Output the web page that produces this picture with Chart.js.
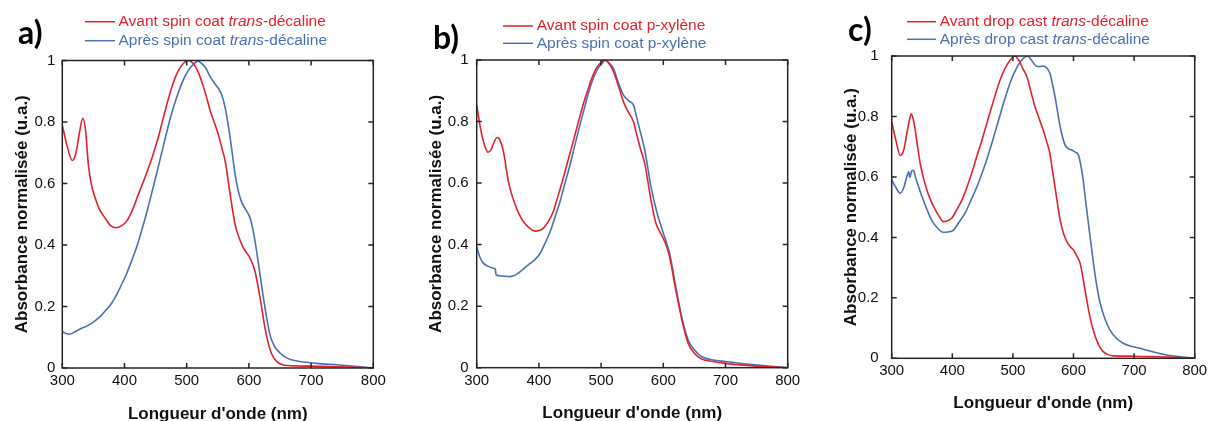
<!DOCTYPE html>
<html>
<head>
<meta charset="utf-8">
<script src="https://cdn.jsdelivr.net/npm/chart.js@4.4.1/dist/chart.umd.min.js"></script>
<style>
  body { margin: 0; width: 1208px; height: 421px; overflow: hidden; background: #fff; position: relative; }
  canvas { position: absolute; top: 0; }
</style>
</head>
<body>
<canvas id="chartA" width="400" height="421" style="left:0px;width:400px;height:421px"></canvas>
<canvas id="chartB" width="400" height="421" style="left:414px;width:400px;height:421px"></canvas>
<canvas id="chartC" width="400" height="421" style="left:829px;width:400px;height:421px"></canvas>
<script>
// axes
const xTicksNm = [300, 400, 500, 600, 700, 800];
const yTicksAbs = [0, 0.2, 0.4, 0.6, 0.8, 1];
const xTitle = "Longueur d'onde (nm)";
const yTitle = 'Absorbance normalisée (u.a.)';

// a) spin coat trans-décaline
const aAvantNm = [300, 308, 316, 322, 328, 333, 337, 342, 347, 353, 360, 369, 378, 387, 395, 403, 412, 422, 433, 444, 455, 465, 474, 481, 488, 495, 502, 508, 514, 520, 526, 532, 538, 545, 551, 556, 562, 570, 578, 584, 590, 596, 602, 610, 618, 626, 634, 640, 645, 652, 661, 700, 750, 800];
const aAvantAbs = [0.79, 0.72, 0.675, 0.70, 0.77, 0.812, 0.78, 0.66, 0.595, 0.552, 0.515, 0.487, 0.462, 0.456, 0.462, 0.476, 0.51, 0.563, 0.62, 0.682, 0.755, 0.834, 0.9, 0.942, 0.972, 0.991, 1.0, 0.995, 0.98, 0.955, 0.92, 0.88, 0.835, 0.795, 0.758, 0.72, 0.671, 0.563, 0.465, 0.425, 0.395, 0.375, 0.357, 0.313, 0.227, 0.129, 0.059, 0.033, 0.021, 0.012, 0.008, 0.006, 0.004, 0];
const aApresNm = [300, 306, 312, 318, 325, 331, 340, 347, 355, 363, 371, 379, 387, 395, 403, 411, 419, 427, 435, 443, 451, 459, 467, 475, 483, 491, 498, 505, 512, 518, 523, 530, 537, 545, 551, 556, 562, 570, 578, 583, 588, 595, 602, 606, 610, 618, 626, 634, 640, 645, 652, 661, 670, 682, 709, 746, 775, 800];
const aApresAbs = [0.118, 0.112, 0.11, 0.115, 0.123, 0.129, 0.137, 0.145, 0.157, 0.172, 0.19, 0.21, 0.237, 0.27, 0.305, 0.346, 0.39, 0.443, 0.5, 0.563, 0.627, 0.693, 0.76, 0.823, 0.875, 0.92, 0.952, 0.975, 0.99, 0.998, 0.992, 0.978, 0.95, 0.925, 0.909, 0.89, 0.845, 0.747, 0.628, 0.575, 0.541, 0.515, 0.487, 0.455, 0.411, 0.302, 0.194, 0.107, 0.075, 0.059, 0.045, 0.032, 0.026, 0.021, 0.015, 0.01, 0.005, 0];

// b) spin coat p-xylène
const bAvantNm = [300, 305, 311, 318, 323, 327, 333, 336, 340, 343, 351, 356, 362, 368, 375, 384, 394, 400, 407, 415, 423, 431, 439, 447, 455, 463, 471, 479, 487, 494, 501, 506, 512, 520, 528, 536, 544, 552, 557, 563, 570, 580, 588, 595, 600, 606, 610, 620, 630, 640, 650, 660, 680, 700, 750, 800];
const bAvantAbs = [0.854, 0.79, 0.734, 0.70, 0.708, 0.729, 0.748, 0.745, 0.725, 0.702, 0.605, 0.565, 0.529, 0.5, 0.475, 0.455, 0.444, 0.446, 0.453, 0.475, 0.507, 0.56, 0.615, 0.675, 0.734, 0.795, 0.854, 0.905, 0.951, 0.978, 0.994, 1.0, 0.99, 0.962, 0.915, 0.864, 0.83, 0.8, 0.76, 0.713, 0.665, 0.547, 0.47, 0.44, 0.42, 0.39, 0.362, 0.253, 0.155, 0.079, 0.047, 0.03, 0.02, 0.014, 0.005, 0];
const bApresNm = [300, 305, 311, 318, 327, 330, 331, 340, 353, 361, 370, 378, 386, 394, 402, 410, 418, 426, 434, 442, 450, 458, 466, 474, 482, 489, 496, 502, 507, 513, 520, 528, 536, 544, 552, 557, 563, 570, 580, 590, 600, 610, 620, 630, 640, 650, 660, 680, 700, 750, 800];
const bApresAbs = [0.393, 0.36, 0.339, 0.33, 0.323, 0.32, 0.302, 0.298, 0.296, 0.3, 0.312, 0.326, 0.339, 0.352, 0.372, 0.405, 0.442, 0.49, 0.54, 0.6, 0.659, 0.725, 0.789, 0.85, 0.908, 0.948, 0.975, 0.99, 1.0, 0.99, 0.972, 0.925, 0.886, 0.868, 0.854, 0.815, 0.767, 0.71, 0.59, 0.503, 0.438, 0.373, 0.264, 0.161, 0.09, 0.058, 0.038, 0.025, 0.02, 0.009, 0];

// c) drop cast trans-décaline
const cAvantNm = [300, 307, 314, 320, 325, 329, 332, 335, 338, 342, 347, 352, 358, 365, 372, 379, 385, 392, 399, 407, 416, 424, 432, 440, 449, 457, 465, 473, 481, 488, 495, 503, 510, 516, 523, 530, 536, 543, 550, 556, 561, 565, 570, 578, 584, 589, 595, 600, 605, 611, 619, 627, 633, 638, 644, 649, 656, 666, 700, 741, 770, 800];
const cAvantAbs = [0.783, 0.72, 0.671, 0.69, 0.744, 0.785, 0.808, 0.795, 0.766, 0.71, 0.645, 0.6, 0.557, 0.52, 0.491, 0.468, 0.452, 0.455, 0.463, 0.49, 0.524, 0.565, 0.612, 0.665, 0.722, 0.778, 0.832, 0.885, 0.932, 0.962, 0.985, 1.0, 0.985, 0.96, 0.932, 0.88, 0.835, 0.795, 0.755, 0.715, 0.678, 0.625, 0.56, 0.457, 0.41, 0.386, 0.368, 0.358, 0.34, 0.314, 0.226, 0.138, 0.09, 0.061, 0.035, 0.022, 0.013, 0.008, 0.007, 0.005, 0.003, 0];
const cApresNm = [300, 307, 314, 320, 325, 328, 330, 333, 336, 339, 344, 350, 358, 366, 375, 385, 393, 402, 411, 421, 432, 443, 454, 465, 476, 487, 497, 506, 514, 521, 524, 531, 539, 545, 550, 556, 561, 565, 570, 578, 586, 592, 597, 603, 608, 612, 616, 620, 625, 633, 638, 644, 652, 660, 670, 682, 695, 710, 730, 754, 787, 800];
const cApresAbs = [0.59, 0.565, 0.546, 0.565, 0.601, 0.617, 0.598, 0.62, 0.622, 0.601, 0.57, 0.535, 0.493, 0.457, 0.432, 0.417, 0.418, 0.424, 0.45, 0.48, 0.528, 0.579, 0.64, 0.71, 0.785, 0.86, 0.92, 0.96, 0.985, 0.998, 1.0, 0.985, 0.966, 0.965, 0.967, 0.96, 0.943, 0.91, 0.86, 0.766, 0.706, 0.693, 0.689, 0.682, 0.673, 0.64, 0.59, 0.52, 0.44, 0.314, 0.245, 0.182, 0.13, 0.094, 0.068, 0.05, 0.04, 0.033, 0.022, 0.011, 0.003, 0];

const aLabels = ['Avant spin coat <i>trans</i>-décaline', 'Après spin coat <i>trans</i>-décaline'];
const bLabels = ['Avant spin coat p-xylène', 'Après spin coat p-xylène'];
const cLabels = ['Avant drop cast <i>trans</i>-décaline', 'Après drop cast <i>trans</i>-décaline'];

const RED = '#e2232b';
const BLUE = '#4a71b6';
const FRAME = '#262626';
const FONT = "'Liberation Sans', Arial, sans-serif";

function pts(xs, ys) {
  return xs.map((x, i) => ({ x: x, y: ys[i] }));
}

// frame, inner ticks on all four sides, legend with italic parts, panel letter
const panelDecor = {
  id: 'panelDecor',
  afterDatasetsDraw(chart, args, opts) {
    const ctx = chart.ctx;
    const { left, right, top, bottom } = chart.chartArea;
    const xs = chart.scales.x, ys = chart.scales.y;
    ctx.save();
    ctx.strokeStyle = FRAME;
    ctx.lineWidth = 1.5;
    ctx.strokeRect(left, top, right - left, bottom - top);
    ctx.beginPath();
    xs.ticks.forEach(t => {
      const px = xs.getPixelForValue(t.value);
      ctx.moveTo(px, bottom); ctx.lineTo(px, bottom - 5);
      ctx.moveTo(px, top); ctx.lineTo(px, top + 5);
    });
    ys.ticks.forEach(t => {
      const py = ys.getPixelForValue(t.value);
      ctx.moveTo(left, py); ctx.lineTo(left + 5, py);
      ctx.moveTo(right, py); ctx.lineTo(right - 5, py);
    });
    ctx.stroke();
    ctx.restore();
  },
  afterDraw(chart, args, opts) {
    const ctx = chart.ctx;
    const off = opts.canvasLeft;
    ctx.save();
    chart.data.datasets.forEach((ds, i) => {
      const y = opts.legendY[i];
      ctx.strokeStyle = ds.borderColor;
      ctx.lineWidth = 1.5;
      ctx.beginPath();
      ctx.moveTo(opts.lineX1 - off, y);
      ctx.lineTo(opts.lineX2 - off, y);
      ctx.stroke();
      ctx.fillStyle = ds.borderColor;
      ctx.textBaseline = 'middle';
      ctx.textAlign = 'left';
      let x = opts.textX - off;
      ds.label.split(/<\/?i>/).forEach((part, k) => {
        ctx.font = (k % 2 ? 'italic ' : '') + '15.5px ' + FONT;
        ctx.fillText(part, x, y);
        x += ctx.measureText(part).width;
      });
    });
    ctx.fillStyle = '#000';
    ctx.font = "bold 32px Lato, 'Open Sans', sans-serif";
    ctx.textBaseline = 'alphabetic';
    ctx.fillText(opts.letter, opts.letterX - off, opts.letterY);
    ctx.restore();
  }
};

function makeChart(id, avant, apres, labels, lay) {
  return new Chart(document.getElementById(id), {
    type: 'line',
    data: {
      datasets: [
        { label: labels[0], data: avant, borderColor: RED, borderWidth: 1.6 },
        { label: labels[1], data: apres, borderColor: BLUE, borderWidth: 1.6 }
      ]
    },
    options: {
      responsive: false,
      animation: false,
      devicePixelRatio: 1,
      layout: {
        padding: { left: 0, top: lay.top, right: 400 - (lay.right - lay.canvasLeft), bottom: 0 }
      },
      elements: {
        point: { radius: 0 },
        line: { cubicInterpolationMode: 'monotone', fill: false }
      },
      plugins: {
        legend: { display: false },
        tooltip: { enabled: false },
        panelDecor: {
          canvasLeft: lay.canvasLeft,
          lineX1: lay.lineX1, lineX2: lay.lineX2, textX: lay.textX, legendY: lay.legendY,
          letter: lay.letter, letterX: lay.letterX, letterY: lay.letterY
        }
      },
      scales: {
        x: {
          type: 'linear',
          min: xTicksNm[0],
          max: xTicksNm[xTicksNm.length - 1],
          afterBuildTicks: s => { s.ticks = xTicksNm.map(v => ({ value: v })); },
          afterFit: s => { s.height = 421 - lay.bottom; },
          grid: { display: false, drawTicks: false },
          border: { display: false },
          ticks: { color: '#111', padding: 4, maxRotation: 0, font: { family: FONT, size: 15 } },
          title: {
            display: true, text: xTitle, color: '#111',
            font: { family: FONT, size: 17, weight: 'bold' },
            padding: { top: 0, bottom: lay.xTitlePad }
          }
        },
        y: {
          min: yTicksAbs[0],
          max: yTicksAbs[yTicksAbs.length - 1],
          afterBuildTicks: s => { s.ticks = yTicksAbs.map(v => ({ value: v })); },
          afterFit: s => { s.width = lay.left - lay.canvasLeft; },
          grid: { display: false, drawTicks: false },
          border: { display: false },
          ticks: {
            color: '#111', padding: lay.yTickPad, font: { family: FONT, size: 15 },
            callback: v => String(Number(v.toFixed(1)))
          },
          title: {
            display: true, text: yTitle, color: '#111',
            font: { family: FONT, size: 17, weight: 'bold' },
            padding: { top: 12.1, bottom: 0 }
          }
        }
      }
    },
    plugins: [panelDecor]
  });
}

makeChart('chartA', pts(aAvantNm, aAvantAbs), pts(aApresNm, aApresAbs), aLabels, {
  canvasLeft: 0, left: 62.3, right: 373.3, top: 60.5, bottom: 368,
  yTickPad: 7, xTitlePad: -3.8,
  lineX1: 85, lineX2: 115, textX: 118.5, legendY: [21.7, 40.7],
  letter: 'a)', letterX: 18, letterY: 44
});
makeChart('chartB', pts(bAvantNm, bAvantAbs), pts(bApresNm, bApresAbs), bLabels, {
  canvasLeft: 414, left: 476.7, right: 787.7, top: 60, bottom: 367.7,
  yTickPad: 8, xTitlePad: -2.8,
  lineX1: 503, lineX2: 533, textX: 536.7, legendY: [26, 43.3],
  letter: 'b)', letterX: 433, letterY: 49
});
makeChart('chartC', pts(cAvantNm, cAvantAbs), pts(cApresNm, cApresAbs), cLabels, {
  canvasLeft: 829, left: 891.7, right: 1194.7, top: 56, bottom: 358.3,
  yTickPad: 13, xTitlePad: 7.8,
  lineX1: 907, lineX2: 936, textX: 939.7, legendY: [21.7, 39.3],
  letter: 'c)', letterX: 848, letterY: 41
});
</script>
</body>
</html>
